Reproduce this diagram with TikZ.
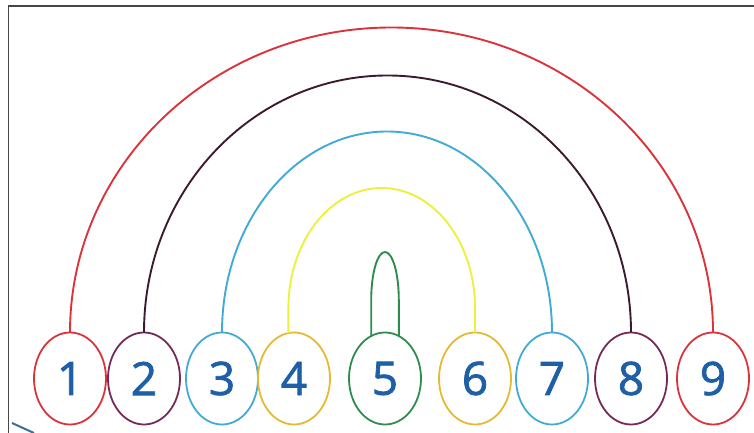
\documentclass[tikz,border=0pt]{standalone}
\usepackage{fontspec}
\setmainfont{Open Sans}
\newfontfamily\digitfont{Open Sans}[FakeBold=1.6]
\usetikzlibrary{shapes.geometric,calc}
\definecolor{cred}{RGB}{218,52,58}
\definecolor{cpurple}{RGB}{118,42,88}
\definecolor{cpurplearc}{RGB}{62,26,46}
\definecolor{cblue}{RGB}{66,170,212}
\definecolor{cyelnode}{RGB}{228,186,52}
\definecolor{cyelarc}{RGB}{236,240,62}
\definecolor{cgreen}{RGB}{46,140,78}
\definecolor{cdigit}{RGB}{30,95,165}
\definecolor{cframe}{RGB}{70,70,70}
\definecolor{cfrag}{RGB}{60,110,150}
\tikzset{
  numbox/.style={ellipse, draw, line width=1.8pt, minimum width=72pt, minimum height=92pt,
    inner sep=0pt, outer sep=0pt, text=cdigit, font=\digitfont\fontsize{46}{46}\selectfont},
  band/.style={line width=1.9pt},
  framestyle/.style={draw=cframe, line width=1.6pt},
}
\begin{document}
\begin{tikzpicture}[x=1pt,y=1pt]
\useasboundingbox (0,0) rectangle (754,433);
\draw[framestyle] (8.5,0) -- (8.5,427) -- (754,427);
% number ellipses
\node[numbox, draw=cred]      (n1) at (70,54.5)  {1};
\node[numbox, draw=cpurple]   (n2) at (144,54.5) {2};
\node[numbox, draw=cblue]     (n3) at (222,54.5) {3};
\node[numbox, draw=cyelnode]  (n4) at (294,54.5) {4};
\node[numbox, draw=cgreen]    (n5) at (385,54.5) {5};
\node[numbox, draw=cyelnode]  (n6) at (475,54.5) {6};
\node[numbox, draw=cblue]     (n7) at (552,54.5) {7};
\node[numbox, draw=cpurple]   (n8) at (631,54.5) {8};
\node[numbox, draw=cred]      (n9) at (713,54.5) {9};
% arcs
\draw[band, cred] let \p1=(n1.north), \p2=(n9.north) in
  (\p1) arc[start angle=180, end angle=0, x radius={(\x2-\x1)/2}, y radius=305pt];
\draw[band, cpurplearc] let \p1=(n2.north), \p2=(n8.north) in
  (\p1) arc[start angle=180, end angle=0, x radius={(\x2-\x1)/2}, y radius=257pt];
\draw[band, cblue] let \p1=(n3.north), \p2=(n7.north) in
  (\p1) arc[start angle=180, end angle=0, x radius={(\x2-\x1)/2}, y radius=201pt];
\draw[band, cyelarc] let \p1=(n4.97), \p2=(n6.north) in
  (\p1) -- (\x1,125pt) arc[start angle=180, end angle=0, x radius={(\x2-\x1)/2}, y radius=120pt] -- (\p2);
\draw[band, cgreen] let \p1=(n5.108), \p2=(n5.72) in
  (\p1) -- (\x1,133pt) arc[start angle=180, end angle=0, x radius={(\x2-\x1)/2}, y radius=48pt] -- (\p2);
% fragment at bottom left
\coordinate (fa) at (12,10);
\coordinate (fb) at (34,0);
\draw[line width=2pt, draw=cfrag] (fa) -- (fb);
\end{tikzpicture}
\end{document}
